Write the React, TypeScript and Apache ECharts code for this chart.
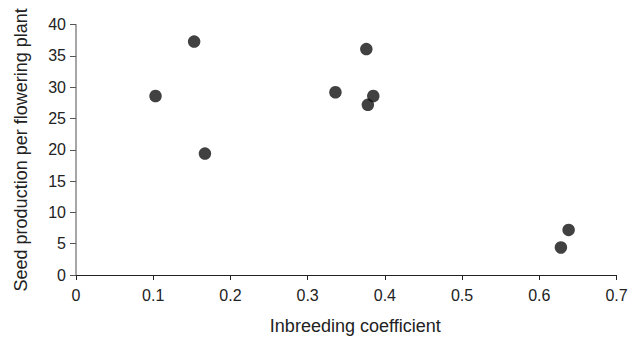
import React, { useEffect, useRef } from "react";
import * as echarts from "echarts";

const inbreeding = [0.103, 0.153, 0.167, 0.336, 0.376, 0.378, 0.385, 0.628, 0.638];
const seedProduction = [28.6, 37.3, 19.4, 29.2, 36.1, 27.2, 28.6, 4.4, 7.2];
const xTicks = [0, 0.1, 0.2, 0.3, 0.4, 0.5, 0.6, 0.7];
const yTicks = [0, 5, 10, 15, 20, 25, 30, 35, 40];

export default function App() {
  const ref = useRef<HTMLDivElement>(null);
  useEffect(() => {
    if (!ref.current) return;
    const chart = echarts.init(ref.current, null, { renderer: "svg" });
    const font = "'Liberation Sans', Arial, Helvetica, sans-serif";
    chart.setOption({
      animation: false,
      backgroundColor: "#ffffff",
      textStyle: { fontFamily: font },
      grid: { left: 76, right: 23.5, top: 24.7, bottom: 58, containLabel: false },
      xAxis: {
        type: "value",
        min: xTicks[0],
        max: xTicks[xTicks.length - 1],
        interval: 0.1,
        name: "Inbreeding coefficient",
        nameLocation: "middle",
        nameGap: 42,
        nameTextStyle: { fontSize: 18, color: "#222", fontFamily: font, padding: [0, 0, 0, 18] },
        axisLine: { show: true, onZero: false, lineStyle: { color: "#222", width: 1.2 } },
        axisTick: { show: true, length: 5, inside: false, lineStyle: { color: "#222" } },
        axisLabel: {
          fontSize: 16,
          color: "#222",
          margin: 12,
          fontFamily: font,
          formatter: (v: number) => (xTicks.some((t) => Math.abs(t - v) < 1e-9) ? String(Math.round(v * 10) / 10) : ""),
        },
        splitLine: { show: false },
      },
      yAxis: {
        type: "value",
        min: yTicks[0],
        max: yTicks[yTicks.length - 1],
        interval: 5,
        name: "Seed production per flowering plant",
        nameLocation: "middle",
        nameGap: 46,
        nameTextStyle: { fontSize: 18, color: "#222", fontFamily: font },
        axisLine: { show: true, onZero: false, lineStyle: { color: "#888", width: 1.5 } },
        axisTick: { show: true, length: 6, inside: false, lineStyle: { color: "#555" } },
        axisLabel: { fontSize: 16, color: "#222", margin: 10, fontFamily: font },
        splitLine: { show: false },
      },
      series: [
        {
          type: "scatter",
          data: inbreeding.map((x, i) => [x, seedProduction[i]]),
          symbol: "circle",
          symbolSize: 12.5,
          itemStyle: { color: "#111111" },
        },
      ],
    });
    return () => chart.dispose();
  }, []);
  return (
    <div
      ref={ref}
      style={{ position: "fixed", left: 0, top: 0, width: 640, height: 340, background: "#fff" }}
    />
  );
}
